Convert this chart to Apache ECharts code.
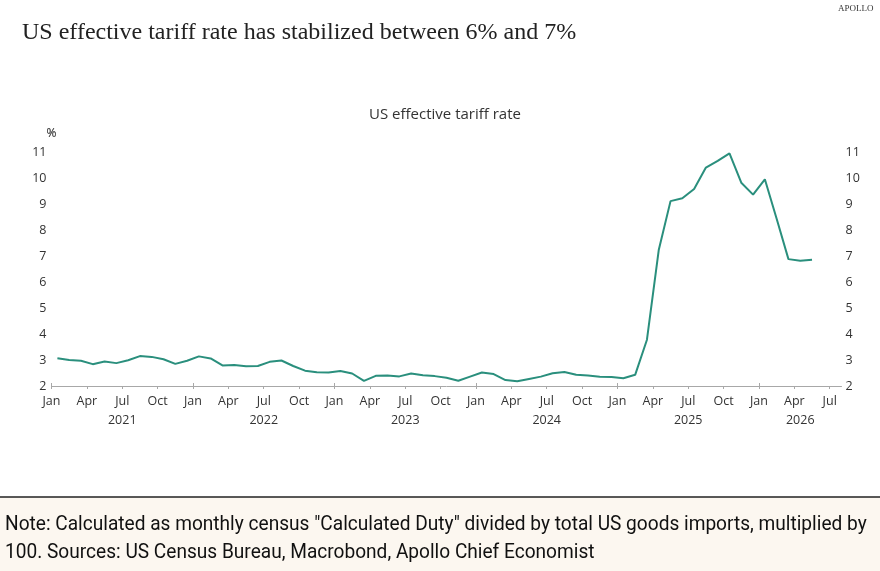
<!DOCTYPE html>
<html>
<head>
<meta charset="utf-8">
<script src="https://cdn.jsdelivr.net/npm/echarts@6/dist/echarts.min.js"></script>
<style>
  html, body { margin: 0; padding: 0; background: #fff; }
  #chart-container { width: 880px; height: 571px; }
</style>
</head>
<body>
<div id="chart-container"></div>
<script>
// monthly values, Jan 2021 .. May 2026 (%)
var startYear = 2021;
var tariffRate = [
  3.07, 3.00, 2.97, 2.84, 2.94, 2.88, 2.99, 3.15, 3.12, 3.03, 2.85, 2.97,
  3.14, 3.06, 2.79, 2.81, 2.76, 2.77, 2.93, 2.98, 2.77, 2.59, 2.53, 2.52,
  2.58, 2.48, 2.20, 2.39, 2.40, 2.37, 2.48, 2.41, 2.38, 2.32, 2.20, 2.36,
  2.52, 2.46, 2.23, 2.18, 2.27, 2.36, 2.49, 2.54, 2.43, 2.40, 2.36, 2.35,
  2.30, 2.43, 3.78, 7.23, 9.11, 9.22, 9.58, 10.40, 10.66, 10.95, 9.82, 9.36,
  9.95, 8.43, 6.88, 6.82, 6.86
];
var monthNames = ['Jan', 'Feb', 'Mar', 'Apr', 'May', 'Jun', 'Jul', 'Aug', 'Sep', 'Oct', 'Nov', 'Dec'];
// x is months since Jan 2021; axis runs to the end of Jul 2026
var axisEnd = 67;
var quarterTicks = [0, 3, 6, 9, 12, 15, 18, 21, 24, 27, 30, 33, 36, 39, 42, 45, 48, 51, 54, 57, 60, 63, 66];
var yearTicks = [0, 12, 24, 36, 48, 60];
var yearLabels = ['2021', '2022', '2023', '2024', '2025', '2026'];
var yTicks = [2, 3, 4, 5, 6, 7, 8, 9, 10, 11];

var title = 'US effective tariff rate has stabilized between 6% and 7%';
var chartTitle = 'US effective tariff rate';
var noteLines = [
  'Note: Calculated as monthly census "Calculated Duty" divided by total US goods imports, multiplied by',
  '100. Sources: US Census Bureau, Macrobond, Apollo Chief Economist'
];

var lineData = tariffRate.map(function (v, i) { return [i + 0.5, v]; });
// year labels sit in the middle of the visible part of each year
var yearCenters = yearTicks.map(function (t) { return (t + Math.min(t + 12, axisEnd)) / 2; });

var axisFont = "'Open Sans', 'Noto Sans', sans-serif";
var noteFont = "Roboto, sans-serif";

var myChart = echarts.init(document.getElementById('chart-container'));

function yAxisFor(pos) {
  return {
    type: 'value',
    position: pos,
    min: yTicks[0],
    max: yTicks[yTicks.length - 1],
    interval: 1,
    name: '%',
    nameLocation: 'end',
    nameGap: 12,
    nameTextStyle: { color: '#555', fontSize: 12, fontFamily: axisFont, align: 'center' },
    axisLine: { show: false },
    axisTick: { show: false },
    splitLine: { show: false },
    axisLabel: {
      color: '#333', fontSize: 12.5, fontFamily: axisFont, margin: pos === 'left' ? 5 : 4
    }
  };
}

var option = {
  backgroundColor: '#fff',
  animation: false,
  grid: { left: 51.5, right: 38.5, top: 152, bottom: 185, containLabel: false },
  xAxis: [
    {
      type: 'value',
      min: 0,
      max: axisEnd,
      axisLine: { lineStyle: { color: '#a8a8a8', width: 1 } },
      axisTick: { customValues: quarterTicks, length: 3, lineStyle: { color: '#a8a8a8' } },
      splitLine: { show: false },
      axisLabel: {
        customValues: quarterTicks,
        color: '#333', fontSize: 12.5, fontFamily: axisFont, margin: 9,
        formatter: function (v) { return monthNames[Math.round(v) % 12]; }
      }
    },
    {
      // taller ticks at each January, above the axis line
      type: 'value',
      position: 'bottom',
      min: 0,
      max: axisEnd,
      axisLine: { show: false },
      axisTick: { customValues: yearTicks, inside: true, length: 3, lineStyle: { color: '#a8a8a8' } },
      axisLabel: { show: false },
      splitLine: { show: false }
    },
    {
      // year row
      type: 'value',
      position: 'bottom',
      min: 0,
      max: axisEnd,
      axisLine: { show: false },
      axisTick: { show: false },
      splitLine: { show: false },
      axisLabel: {
        customValues: yearCenters,
        color: '#333', fontSize: 12.5, fontFamily: axisFont, margin: 28,
        formatter: function (v) {
          return yearLabels[yearCenters.indexOf(v)] || yearLabels[Math.floor(v / 12)];
        }
      }
    }
  ],
  yAxis: [yAxisFor('left'), yAxisFor('right')],
  series: [
    {
      type: 'line',
      data: lineData,
      showSymbol: false,
      smooth: false,
      lineStyle: { color: '#2a8f7d', width: 2 },
      itemStyle: { color: '#2a8f7d' }
    }
  ],
  graphic: {
    elements: [
      {
        type: 'text', x: 838, y: 9,
        style: {
          text: 'APOLLO', fontSize: 9, fontFamily: "'Liberation Serif', serif", fill: '#333',
          textVerticalAlign: 'middle'
        }
      },
      {
        type: 'text', x: 22, y: 33,
        style: {
          text: title, fontSize: 24, fontFamily: "'Liberation Serif', 'DejaVu Serif', serif",
          fill: '#222', textVerticalAlign: 'middle'
        }
      },
      {
        type: 'text', x: 445, y: 115,
        style: {
          text: chartTitle, fontSize: 15, fontFamily: axisFont, fill: '#333',
          textAlign: 'center', textVerticalAlign: 'middle'
        }
      },
      {
        type: 'rect', shape: { x: 0, y: 497, width: 880, height: 74 },
        style: { fill: '#fcf7f0' }
      },
      {
        type: 'line', shape: { x1: 0, y1: 497, x2: 880, y2: 497 },
        style: { stroke: '#222', lineWidth: 1.5 }
      },
      {
        type: 'text', x: 5, y: 525, scaleX: 0.955,
        style: {
          text: noteLines[0], fontSize: 20, fontFamily: noteFont,
          fill: '#111', textVerticalAlign: 'middle'
        }
      },
      {
        type: 'text', x: 5, y: 553, scaleX: 0.955,
        style: {
          text: noteLines[1], fontSize: 20, fontFamily: noteFont,
          fill: '#111', textVerticalAlign: 'middle'
        }
      }
    ]
  }
};

myChart.setOption(option);
</script>
</body>
</html>
